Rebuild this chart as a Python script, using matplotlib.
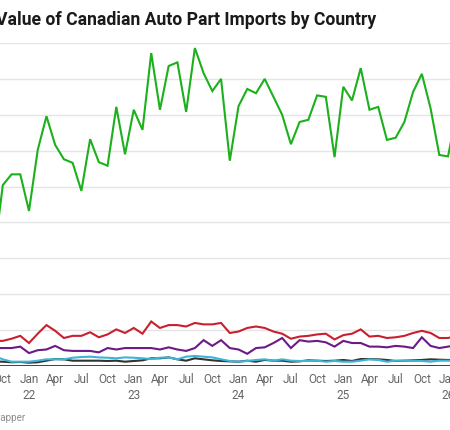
import matplotlib
matplotlib.use("Agg")
import matplotlib.pyplot as plt

# Months from Sep 2021 to Feb 2026 (index 0 = Jan 2022)
start_month = -4
# values (CAD billions)
green = [1.55, 2.52, 2.67, 2.67,
         2.16, 3.01, 3.48, 3.08, 2.88, 2.83, 2.44, 3.16, 2.84, 2.79, 3.61, 2.95,
         3.57, 3.29, 4.36, 3.57, 4.18, 4.23, 3.54, 4.43, 4.08, 3.83, 4.00, 2.86,
         3.62, 3.86, 3.80, 4.00, 3.75, 3.50, 3.09, 3.40, 3.43, 3.77, 3.75, 2.91,
         3.89, 3.70, 4.15, 3.57, 3.61, 3.15, 3.18, 3.40, 3.82, 4.07, 3.59, 2.94,
         2.92, 3.54]
red = [0.35, 0.35, 0.38, 0.42,
       0.32, 0.45, 0.57, 0.49, 0.39, 0.42, 0.42, 0.47, 0.40, 0.44, 0.51, 0.46,
       0.53, 0.45, 0.62, 0.53, 0.57, 0.57, 0.55, 0.60, 0.58, 0.58, 0.60, 0.46,
       0.48, 0.53, 0.55, 0.53, 0.48, 0.45, 0.38, 0.41, 0.42, 0.44, 0.45, 0.37,
       0.43, 0.45, 0.51, 0.41, 0.42, 0.39, 0.40, 0.42, 0.46, 0.49, 0.46, 0.39,
       0.39, 0.42]
purple = [0.25, 0.25, 0.25, 0.27,
          0.18, 0.22, 0.23, 0.28, 0.22, 0.21, 0.21, 0.21, 0.19, 0.25, 0.23, 0.25,
          0.25, 0.25, 0.25, 0.23, 0.26, 0.23, 0.21, 0.25, 0.36, 0.28, 0.36, 0.25,
          0.23, 0.17, 0.25, 0.26, 0.32, 0.39, 0.25, 0.36, 0.34, 0.35, 0.33, 0.27,
          0.35, 0.32, 0.32, 0.27, 0.27, 0.26, 0.28, 0.27, 0.25, 0.40, 0.28, 0.25,
          0.27, 0.29]
cyan = [0.14, 0.093, 0.06, 0.06,
        0.06, 0.074, 0.093, 0.093, 0.093, 0.115, 0.125, 0.13, 0.12, 0.115, 0.107, 0.12,
        0.115, 0.107, 0.097, 0.115, 0.12, 0.093, 0.13, 0.14, 0.13, 0.12, 0.093, 0.07,
        0.06, 0.07, 0.084, 0.093, 0.074, 0.093, 0.074, 0.07, 0.07, 0.074, 0.06, 0.07,
        0.06, 0.06, 0.074, 0.093, 0.084, 0.06, 0.074, 0.074, 0.07, 0.07, 0.06, 0.074,
        0.074, 0.074]
dark = [0.063, 0.06, 0.052, 0.056,
        0.046, 0.052, 0.074, 0.097, 0.093, 0.074, 0.074, 0.074, 0.074, 0.07, 0.074, 0.06,
        0.07, 0.079, 0.107, 0.107, 0.12, 0.093, 0.074, 0.107, 0.093, 0.079, 0.07, 0.065,
        0.06, 0.074, 0.06, 0.084, 0.074, 0.074, 0.06, 0.065, 0.079, 0.074, 0.07, 0.074,
        0.084, 0.07, 0.097, 0.097, 0.093, 0.084, 0.07, 0.074, 0.079, 0.084, 0.093, 0.088,
        0.084, 0.084]

tick_months = list(range(-3, 49, 3))
tick_labels = ["Oct", "Jan\n22", "Apr", "Jul", "Oct", "Jan\n23", "Apr", "Jul", "Oct",
               "Jan\n24", "Apr", "Jul", "Oct", "Jan\n25", "Apr", "Jul", "Oct", "Jan\n26"]
y_grid = [0.5 * i for i in range(1, 10)]

W, H = 450, 430
fig = plt.figure(figsize=(W / 100, H / 100), dpi=100)
fig.patch.set_facecolor("white")
ax = fig.add_axes([0, (H - 366) / H, 1, (366 - 43) / H])

x = list(range(start_month, start_month + len(green)))
series = [(dark, "#333333"), (cyan, "#3db5d6"), (purple, "#6b1a86"),
          (red, "#c8202f"), (green, "#1cb01c")]
for vals, col in series:
    ax.plot(x, vals, color=col, lw=1.5, solid_joinstyle="miter", zorder=3)

ax.set_xlim(-29 / 8.73, (450 - 29) / 8.73)
ax.set_ylim(0, 4.5)
for g in y_grid:
    ax.axhline(g, color="#e5e5e5", lw=1.0, zorder=1)
ax.axhline(0, color="#333333", lw=1.3, zorder=4)
ax.set_yticks([])
ax.set_xticks(tick_months)
ax.set_xticklabels(tick_labels, fontsize=8.5, color="#666666", family="Roboto",
                   linespacing=1.35)
ax.tick_params(axis="x", length=0, pad=5)
for s in ax.spines.values():
    s.set_visible(False)

fig.text(-4 / W, 1 - 25 / H, "Value of Canadian Auto Part Imports by Country",
         fontsize=12.7, fontweight="bold", family="Roboto", color="#1a1a1a",
         ha="left", va="baseline")
fig.text(25 / W, 1 - 421 / H, "Chart: Datawrapper", fontsize=7, family="Roboto",
         color="#8c8c8c", ha="right", va="baseline")

fig.savefig("out.png", dpi=100, facecolor="white")
